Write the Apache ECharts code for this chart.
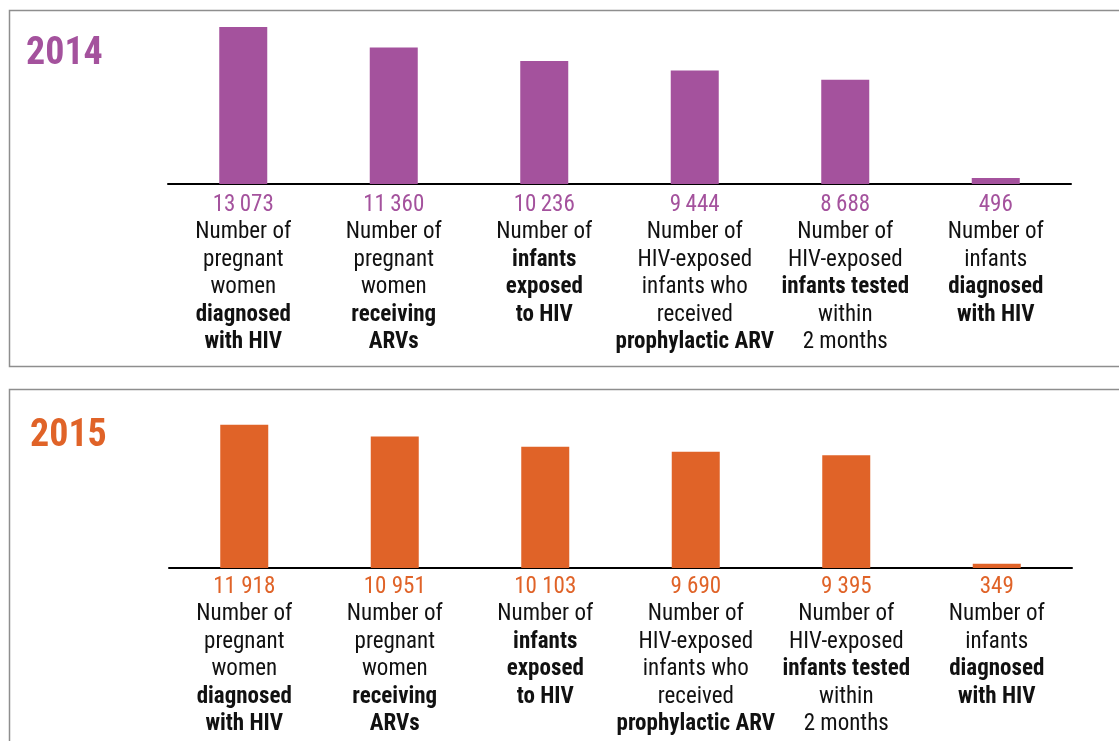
<!DOCTYPE html>
<html>
<head>
<meta charset="utf-8">
<script src="https://cdn.jsdelivr.net/npm/echarts@6/dist/echarts.min.js"></script>
<style>
  html, body { margin: 0; padding: 0; background: #fff; }
  #main { width: 1119px; height: 741px; }
</style>
</head>
<body>
<div id="main"></div>
<script>
  // data
  const years = ['2014', '2015'];
  const values2014 = [13073, 11360, 10236, 9444, 8688, 496];
  const values2015 = [11918, 10951, 10103, 9690, 9395, 349];
  // a leading * marks a bold line
  const labelLines = [
    ['Number of', 'pregnant', 'women', '*diagnosed', '*with HIV'],
    ['Number of', 'pregnant', 'women', '*receiving', '*ARVs'],
    ['Number of', '*infants', '*exposed', '*to HIV'],
    ['Number of', 'HIV-exposed', 'infants who', 'received', '*prophylactic ARV'],
    ['Number of', 'HIV-exposed', '*infants tested', 'within', '2 months'],
    ['Number of', 'infants', '*diagnosed', '*with HIV']
  ];

  const PURPLE = '#a4529d';
  const ORANGE = '#e06328';
  const FONT = '"Liberation Sans Narrow", "Roboto Condensed", "DejaVu Sans Condensed", "Liberation Sans", sans-serif';
  const yMax = Math.max(...values2014, ...values2015);

  function fmt(v, sep) {
    return String(v).replace(/\B(?=(\d{3})+(?!\d))/g, sep);
  }

  function labelFormatter(values, sep) {
    return function (val, idx) {
      let out = ['{v|' + fmt(values[idx], sep) + '}'];
      for (let line of labelLines[idx]) {
        if (line[0] === '*') out.push('{b|' + line.slice(1) + '}');
        else out.push('{n|' + line + '}');
      }
      return out.join('\n');
    };
  }

  function richFor(color) {
    return {
      v: { color: color, fontSize: 23, fontFamily: FONT, lineHeight: 27.5 },
      n: { color: '#111', fontSize: 23, fontFamily: FONT, lineHeight: 27.5 },
      b: { color: '#111', fontSize: 23, fontWeight: 'bold', fontFamily: FONT, lineHeight: 27.5 }
    };
  }

  function xAxisFor(gridIndex, values, color, sep, margin) {
    return {
      type: 'category',
      gridIndex: gridIndex,
      data: labelLines.map((l, i) => String(i)),
      axisLine: { lineStyle: { color: '#000', width: 2 } },
      axisTick: { show: false },
      axisLabel: {
        interval: 0,
        margin: margin,
        align: 'center',
        formatter: labelFormatter(values, sep),
        rich: richFor(color)
      }
    };
  }

  let myChart = echarts.init(document.getElementById('main'));
  myChart.setOption({
    animation: false,
    grid: [
      { left: 168, width: 903, top: 27, height: 157 },
      { left: 169, width: 903, top: 411, height: 157 }
    ],
    xAxis: [
      xAxisFor(0, values2014, PURPLE, '\u2009', 7),
      xAxisFor(1, values2015, ORANGE, ' ', 5)
    ],
    yAxis: [
      { type: 'value', gridIndex: 0, min: 0, max: yMax, show: false },
      { type: 'value', gridIndex: 1, min: 0, max: yMax, show: false }
    ],
    graphic: [
      { type: 'rect', shape: { x: 9.5, y: 10.5, width: 1200, height: 356 },
        style: { fill: 'none', stroke: '#8e8e8e', lineWidth: 1.5 }, z: -1 },
      { type: 'rect', shape: { x: 9.5, y: 389.5, width: 1200, height: 400 },
        style: { fill: 'none', stroke: '#8e8e8e', lineWidth: 1.5 }, z: -1 },
      { type: 'text', x: 26, y: 54,
        style: { text: years[0], fill: PURPLE, fontSize: 38, fontWeight: 'bold', fontFamily: FONT, verticalAlign: 'middle' } },
      { type: 'text', x: 30, y: 436,
        style: { text: years[1], fill: ORANGE, fontSize: 38, fontWeight: 'bold', fontFamily: FONT, verticalAlign: 'middle' } }
    ],
    series: [
      {
        name: years[0], type: 'bar', xAxisIndex: 0, yAxisIndex: 0,
        barWidth: 48, data: values2014, itemStyle: { color: PURPLE }
      },
      {
        name: years[1], type: 'bar', xAxisIndex: 1, yAxisIndex: 1,
        barWidth: 48, data: values2015, itemStyle: { color: ORANGE }
      }
    ]
  });
</script>
</body>
</html>
